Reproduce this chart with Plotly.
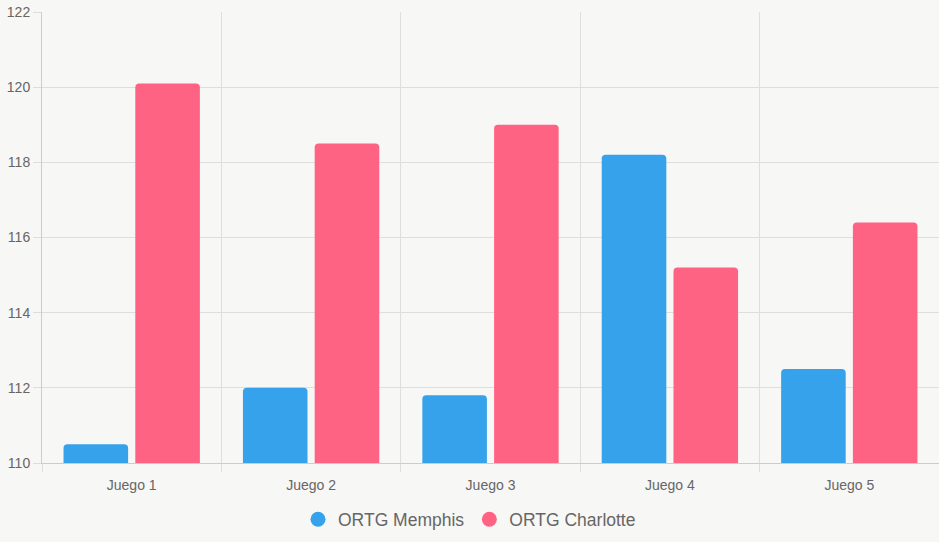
import plotly.graph_objects as go

categories = ["Juego 1", "Juego 2", "Juego 3", "Juego 4", "Juego 5"]
memphis = [110.5, 112.0, 111.8, 118.2, 112.5]
charlotte = [120.1, 118.5, 119.0, 115.2, 116.4]
y_ticks = [110, 112, 114, 116, 118, 120, 122]

BLUE = "#36a2eb"
PINK = "#ff6384"
BG = "#f7f7f5"
GRID = "#dedede"
TXT = "#666666"

fig = go.Figure()
fig.add_trace(go.Bar(x=categories, y=memphis, name="ORTG Memphis", marker_color=BLUE,
                     marker_line_width=0, showlegend=False))
fig.add_trace(go.Bar(x=categories, y=charlotte, name="ORTG Charlotte", marker_color=PINK,
                     marker_line_width=0, showlegend=False))
for nm, c in [("ORTG Memphis", BLUE), ("ORTG Charlotte", PINK)]:
    fig.add_trace(go.Scatter(x=[None], y=[None], mode="markers", name=nm,
                             marker=dict(symbol="circle", size=15, color=c)))

fig.update_layout(
    width=939, height=542,
    margin=dict(l=42, r=0, t=12, b=79),
    paper_bgcolor=BG, plot_bgcolor=BG,
    barmode="group", bargap=0.2, bargroupgap=0.1, barcornerradius=4,
    font=dict(family="Liberation Sans, Arial, sans-serif", color=TXT, size=14),
    legend=dict(orientation="h", x=0.4766, xanchor="center", y=-0.085, yanchor="top",
                font=dict(size=17.5, color=TXT), itemwidth=30, traceorder="normal",
                bgcolor="rgba(0,0,0,0)"),
    showlegend=True,
)
fig.update_xaxes(type="category", tickson="boundaries", showgrid=True, gridcolor=GRID,
                 ticks="outside", ticklen=8, tickcolor=GRID, showline=True, linecolor="#cccccc",
                 tickfont=dict(size=14, color=TXT), zeroline=False, ticklabelstandoff=9)
fig.update_yaxes(range=[110, 122], tickvals=y_ticks, showgrid=True, gridcolor=GRID,
                 ticks="outside", ticklen=8, tickcolor=GRID, showline=True, linecolor="#cccccc",
                 tickfont=dict(size=14, color=TXT), zeroline=False, ticklabelstandoff=0)

fig.write_html("out.html")
